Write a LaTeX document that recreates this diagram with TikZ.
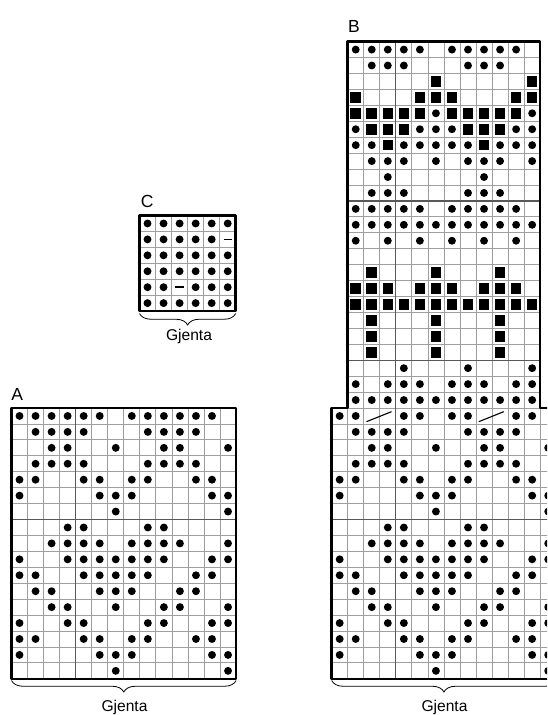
\documentclass[tikz,border=0pt]{standalone}
\usepackage{fontspec}
\setmainfont{Liberation Sans}
\usetikzlibrary{decorations.pathreplacing}
\tikzset{
  gridline/.style={draw=gray!75, line width=0.8pt},
  repline/.style={draw=black!65, line width=1.3pt},
  chartframe/.style={draw=black, line width=2.6pt, line join=round},
  chartlabel/.style={font=\fontsize{17.5}{17.5}\selectfont, inner sep=0pt, anchor=base west},
  repeatlabel/.style={font=\fontsize{15.6}{15.6}\selectfont, inner sep=0pt, anchor=base},
  bracepath/.style={draw=black, line width=0.8pt, decorate, decoration={brace, mirror, amplitude=11.5pt}},
  cellunits/.style={x=16.04pt, y=-15.93pt},
  dashmark/.style={draw=black, line width=1.4pt},
  slashmark/.style={draw=black, line width=1.1pt},
}
\newcommand\knitdot[2]{\fill (#1-0.5,#2-0.5) circle[radius=3.95pt];}
\newcommand\knitsq[2]{\fill (#1-0.5,#2-0.5) ++(-5.3pt,-5.3pt) rectangle ++(10.6pt,10.6pt);}
\newcommand\knitdash[2]{\draw[dashmark] (#1-0.5,#2-0.5) ++(-4.2pt,0pt) -- ++(8.4pt,0pt);}
\newcommand\dotrows[1]{\foreach \r/\cs in {#1} {\foreach \c in \cs {\knitdot{\c}{\r}}}}
\newcommand\sqrows[1]{\foreach \r/\cs in {#1} {\foreach \c in \cs {\knitsq{\c}{\r}}}}
\newcommand\lowerrows{%
  \dotrows{2/{2,3,4,5,9,10,11,12}, 3/{3,4,7,10,11,14}, 4/{2,3,4,5,9,10,11,12},
    5/{1,2,5,6,8,9,12,13}, 6/{1,6,7,8,13,14}, 7/{7,14}, 8/{4,5,9,10},
    9/{3,4,5,6,8,9,10,11,14}, 10/{1,4,5,6,7,8,9,10,13,14}, 11/{1,2,5,6,7,8,9,12,13},
    12/{2,3,6,7,8,11,12}, 13/{3,4,7,10,11,14}, 14/{1,4,5,9,10,13,14},
    15/{1,2,5,6,8,9,12,13}, 16/{1,6,7,8,13,14}, 17/{7,14}}}
\newcommand\lowergrid{%
  \foreach \i in {1,...,13} {\draw[gridline] (\i,0) -- (\i,17);}
  \foreach \j in {1,...,16} {\draw[gridline] (0,\j) -- (14,\j);}
  \draw[repline] (4,0) -- (4,17);
  \draw[repline] (0,7) -- (14,7);}
\begin{document}
\begin{tikzpicture}[x=1pt, y=-1pt]
  \useasboundingbox (0,0) rectangle (547,715);
  \fill[white] (0,0) rectangle (547,715);
  \clip (0,0) rectangle (547,715);

  % ---------- Chart A ----------
  \begin{scope}[shift={(11.5pt,-408pt)}, cellunits]
    \lowergrid
    \draw[chartframe] (0,0) rectangle (14,17);
    \dotrows{1/{1,2,3,4,5,6,8,9,10,11,12,13}}
    \lowerrows
  \end{scope}
  \node[chartlabel] (labA) at (11.3,400) {A};
  \draw[bracepath] (11.5,680.5) -- (236.1,680.5);
  \node[repeatlabel] (gjA) at (124.5,711.7) {Gjenta};

  % ---------- Chart C ----------
  \begin{scope}[shift={(139.5pt,-215.5pt)}, cellunits]
    \foreach \i in {1,...,5} {\draw[gridline] (\i,0) -- (\i,6);}
    \foreach \j in {1,...,5} {\draw[gridline] (0,\j) -- (6,\j);}
    \draw[chartframe] (0,0) rectangle (6,6);
    \dotrows{1/{1,2,3,4,5,6}, 2/{1,2,3,4,5}, 3/{1,2,3,4,5,6}, 4/{1,2,3,4,5,6},
      5/{1,2,4,5,6}, 6/{1,2,3,4,5,6}}
    \knitdash{6}{2}
    \knitdash{3}{5}
  \end{scope}
  \node[chartlabel] (labC) at (140.6,207) {C};
  \draw[bracepath] (139.5,313.5) -- (235.7,313.5);
  \node[repeatlabel] (gjC) at (189,340) {Gjenta};

  % ---------- Chart B, upper part ----------
  \begin{scope}[shift={(347.7pt,-41.61pt)}, cellunits]
    \foreach \i in {1,...,11} {\draw[gridline] (\i,0) -- (\i,23);}
    \foreach \j in {1,...,23} {\draw[gridline] (0,\j) -- (12,\j);}
    \draw[repline] (3,0) -- (3,23);
    \draw[repline] (0,10) -- (12,10);
    \draw[repline] (0,20) -- (12,20);
    \dotrows{1/{1,2,3,4,5,7,8,9,10,11}, 2/{2,3,4,8,9,10}, 5/{6,12},
      6/{1,5,6,7,11,12}, 7/{1,2,4,5,6,7,8,10,11,12}, 8/{2,3,4,6,8,9,10,12},
      9/{3,9}, 10/{2,3,4,8,9,10}, 11/{1,2,3,4,5,7,8,9,10,11},
      12/{1,2,3,4,5,6,7,8,9,10,11,12}, 13/{1,3,5,7,9,11},
      21/{4,8,12}, 22/{1,3,4,5,7,8,9,11,12}, 23/{1,2,3,4,5,6,7,8,9,10,11,12}}
    \sqrows{3/{6,12}, 4/{1,5,6,7,11,12}, 5/{1,2,3,4,5,7,8,9,10,11},
      6/{2,3,4,8,9,10}, 7/{3,9}, 15/{2,6,10}, 16/{1,2,3,5,6,7,9,10,11},
      17/{1,2,3,4,5,6,7,8,9,10,11,12}, 18/{2,6,10}, 19/{2,6,10}, 20/{2,6,10}}
  \end{scope}

  % ---------- Chart B, lower part ----------
  \begin{scope}[shift={(331.66pt,-408pt)}, cellunits]
    \lowergrid
    \dotrows{1/{1,2,5,6,8,9,12,13}}
    \draw[slashmark] (2.17,0.86) -- (3.73,0.23);
    \draw[slashmark] (9.17,0.86) -- (10.73,0.23);
    \lowerrows
  \end{scope}
  \draw[chartframe] (347.7,41.61) -- (540.18,41.61) -- (540.18,408) -- (556.22,408)
    -- (556.22,678.81) -- (331.66,678.81) -- (331.66,408) -- (347.7,408) -- cycle;
  \node[chartlabel] (labB) at (347.9,32) {B};
  \draw[bracepath] (331.66,680.5) -- (556.22,680.5);
  \node[repeatlabel] (gjB) at (444.5,711.7) {Gjenta};
\end{tikzpicture}
\end{document}
